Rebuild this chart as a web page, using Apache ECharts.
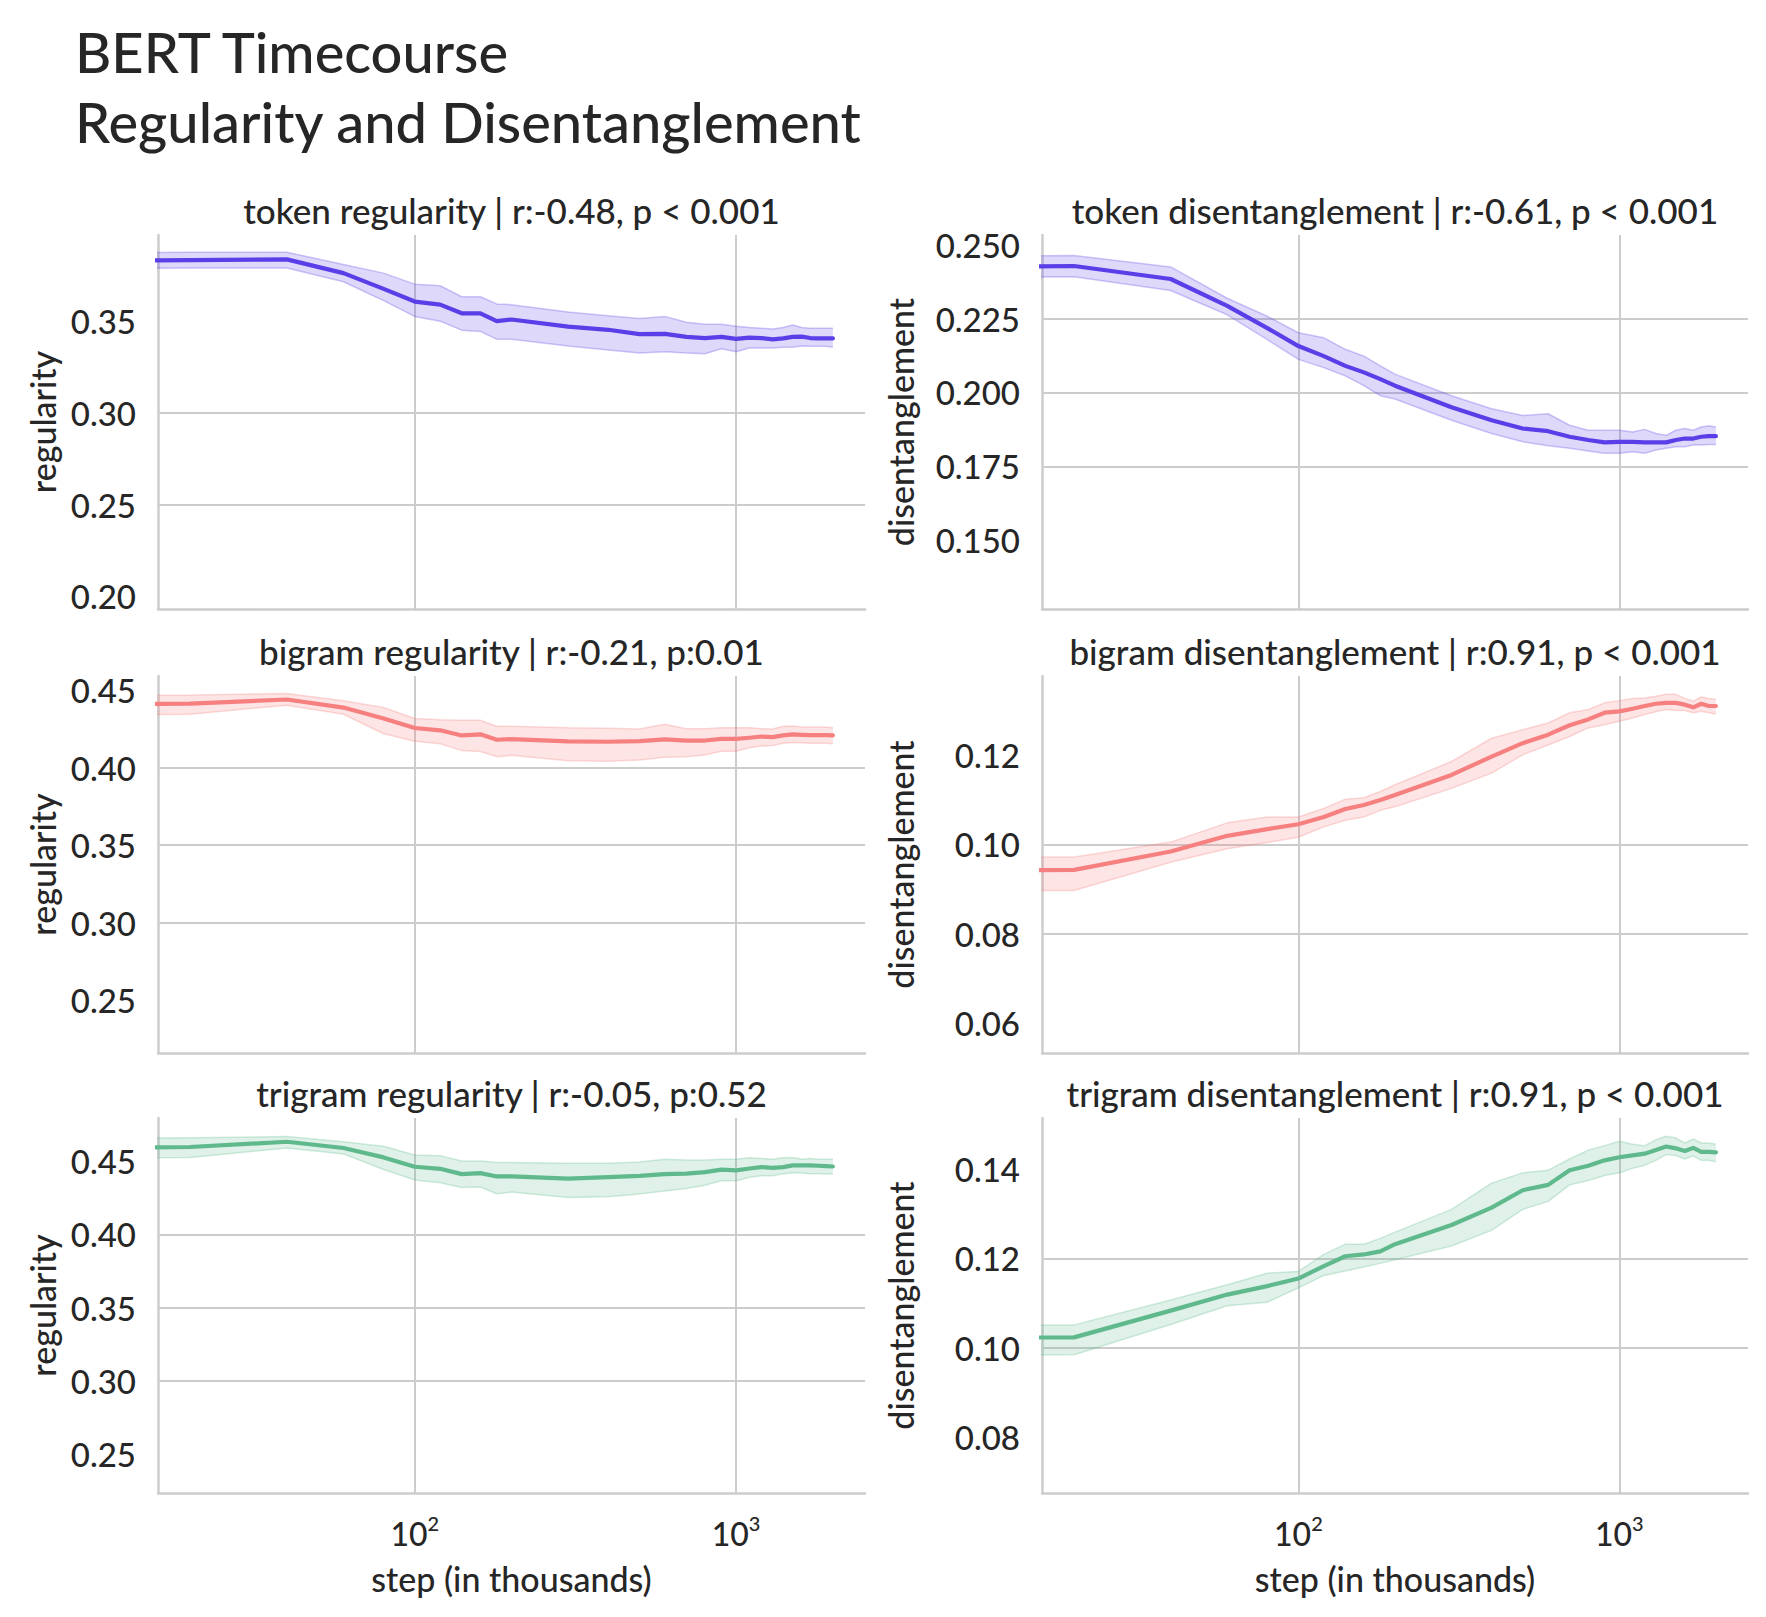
<!DOCTYPE html>
<html><head><meta charset="utf-8">
<script src="https://cdn.jsdelivr.net/npm/echarts@6/dist/echarts.min.js"></script>
<style>html,body{margin:0;padding:0;background:#fff}#chart{width:1766px;height:1617px}</style>
</head><body><div id="chart"></div>
<script>
// ---- data (step in thousands; step 0 is the untrained checkpoint) ----
const steps = [0,20,40,60,80,100,120,140,160,180,200,300,400,500,600,700,800,900,1000,1100,1200,1300,1400,1500,1600,1700,1800,1900,2000];

const tokenRegMean = [0.2055,0.3833,0.3837,0.3762,0.3676,0.3607,0.3590,0.3543,0.3543,0.3500,0.3509,0.3470,0.3453,0.3429,0.3431,0.3414,0.3408,0.3414,0.3403,0.3410,0.3408,0.3401,0.3406,0.3414,0.3416,0.3408,0.3406,0.3406,0.3406];
const tokenRegLo   = [0.2023,0.3790,0.3790,0.3715,0.3612,0.3526,0.3500,0.3451,0.3444,0.3401,0.3401,0.3365,0.3343,0.3326,0.3333,0.3326,0.3322,0.3350,0.3333,0.3354,0.3354,0.3354,0.3358,0.3358,0.3365,0.3363,0.3363,0.3363,0.3358];
const tokenRegHi   = [0.2087,0.3876,0.3876,0.3809,0.3762,0.3702,0.3693,0.3633,0.3633,0.3594,0.3590,0.3550,0.3530,0.3515,0.3526,0.3494,0.3483,0.3483,0.3472,0.3466,0.3461,0.3457,0.3466,0.3479,0.3466,0.3461,0.3461,0.3461,0.3461];

const tokenDisMean = [0.1355,0.2428,0.2384,0.2293,0.2218,0.2157,0.2123,0.2090,0.2068,0.2045,0.2023,0.1950,0.1906,0.1878,0.1869,0.1850,0.1839,0.1831,0.1833,0.1833,0.1831,0.1831,0.1831,0.1839,0.1844,0.1844,0.1850,0.1852,0.1852];
const tokenDisLo   = [0.1325,0.2392,0.2345,0.2263,0.2179,0.2112,0.2084,0.2056,0.2023,0.1989,0.1978,0.1906,0.1861,0.1833,0.1820,0.1811,0.1802,0.1794,0.1794,0.1799,0.1794,0.1805,0.1811,0.1816,0.1816,0.1822,0.1822,0.1824,0.1824];
const tokenDisHi   = [0.1385,0.2464,0.2425,0.2319,0.2258,0.2202,0.2185,0.2146,0.2123,0.2090,0.2062,0.1989,0.1945,0.1922,0.1928,0.1889,0.1872,0.1872,0.1872,0.1866,0.1875,0.1861,0.1855,0.1872,0.1878,0.1872,0.1883,0.1887,0.1883];

const bigramRegMean = [0.2300,0.4415,0.4441,0.4389,0.4318,0.4257,0.4242,0.4209,0.4216,0.4181,0.4185,0.4170,0.4168,0.4172,0.4183,0.4176,0.4176,0.4187,0.4187,0.4194,0.4202,0.4198,0.4209,0.4216,0.4213,0.4211,0.4211,0.4211,0.4209];
const bigramRegLo   = [0.2268,0.4346,0.4404,0.4346,0.4220,0.4172,0.4155,0.4111,0.4105,0.4072,0.4081,0.4046,0.4042,0.4050,0.4068,0.4072,0.4083,0.4107,0.4107,0.4129,0.4140,0.4144,0.4159,0.4163,0.4161,0.4159,0.4159,0.4159,0.4155];
const bigramRegHi   = [0.2332,0.4470,0.4480,0.4433,0.4389,0.4318,0.4311,0.4307,0.4307,0.4268,0.4268,0.4259,0.4255,0.4250,0.4281,0.4252,0.4252,0.4259,0.4259,0.4259,0.4252,0.4250,0.4268,0.4270,0.4263,0.4263,0.4263,0.4263,0.4259];

const bigramDisMean = [0.0595,0.0943,0.0984,0.1019,0.1034,0.1045,0.1061,0.1079,0.1088,0.1099,0.1110,0.1155,0.1196,0.1226,0.1245,0.1266,0.1279,0.1294,0.1297,0.1303,0.1309,0.1314,0.1316,0.1316,0.1312,0.1306,0.1314,0.1309,0.1309];
const bigramDisLo   = [0.0572,0.0897,0.0960,0.0990,0.1004,0.1016,0.1039,0.1054,0.1061,0.1076,0.1084,0.1125,0.1159,0.1200,0.1222,0.1241,0.1260,0.1267,0.1275,0.1282,0.1290,0.1296,0.1301,0.1299,0.1299,0.1294,0.1297,0.1294,0.1291];
const bigramDisHi   = [0.0618,0.0972,0.1005,0.1048,0.1061,0.1061,0.1080,0.1101,0.1104,0.1118,0.1133,0.1185,0.1237,0.1256,0.1271,0.1294,0.1301,0.1316,0.1321,0.1326,0.1327,0.1331,0.1335,0.1335,0.1326,0.1320,0.1329,0.1326,0.1324];

const trigramRegMean = [0.2385,0.4597,0.4633,0.4590,0.4526,0.4462,0.4448,0.4412,0.4419,0.4396,0.4396,0.4381,0.4391,0.4400,0.4412,0.4415,0.4426,0.4443,0.4438,0.4450,0.4460,0.4455,0.4460,0.4472,0.4472,0.4472,0.4469,0.4467,0.4464];
const trigramRegLo   = [0.2351,0.4526,0.4590,0.4550,0.4443,0.4372,0.4353,0.4320,0.4324,0.4277,0.4289,0.4253,0.4258,0.4277,0.4296,0.4313,0.4336,0.4367,0.4367,0.4391,0.4400,0.4400,0.4415,0.4419,0.4419,0.4415,0.4415,0.4412,0.4412];
const trigramRegHi   = [0.2419,0.4661,0.4668,0.4633,0.4602,0.4543,0.4538,0.4502,0.4502,0.4491,0.4491,0.4486,0.4486,0.4495,0.4514,0.4509,0.4509,0.4514,0.4514,0.4524,0.4519,0.4514,0.4524,0.4526,0.4514,0.4519,0.4514,0.4514,0.4514];

const trigramDisMean = [0.0735,0.1023,0.1083,0.1119,0.1138,0.1155,0.1183,0.1205,0.1209,0.1216,0.1232,0.1275,0.1314,0.1353,0.1365,0.1398,0.1408,0.1420,0.1427,0.1431,0.1435,0.1443,0.1451,0.1447,0.1441,0.1448,0.1439,0.1439,0.1438];
const trigramDisLo   = [0.0712,0.0984,0.1052,0.1094,0.1102,0.1134,0.1162,0.1172,0.1181,0.1189,0.1197,0.1228,0.1263,0.1310,0.1328,0.1365,0.1375,0.1386,0.1392,0.1402,0.1409,0.1420,0.1433,0.1431,0.1423,0.1430,0.1420,0.1420,0.1417];
const trigramDisHi   = [0.0758,0.1051,0.1107,0.1141,0.1167,0.1171,0.1209,0.1232,0.1232,0.1245,0.1259,0.1310,0.1369,0.1392,0.1398,0.1423,0.1443,0.1453,0.1463,0.1456,0.1453,0.1466,0.1474,0.1470,0.1459,0.1468,0.1459,0.1459,0.1456];

// axis ranges and tick labels
const tokenRegRange = [0.193, 0.397];    const tokenRegTicks = [0.20,0.25,0.30,0.35];
const tokenDisRange = [0.1267, 0.2533];  const tokenDisTicks = [0.150,0.175,0.200,0.225,0.250];
const bigramRegRange = [0.2157, 0.4593]; const bigramRegTicks = [0.25,0.30,0.35,0.40,0.45];
const bigramDisRange = [0.0534, 0.1376]; const bigramDisTicks = [0.06,0.08,0.10,0.12];
const trigramRegRange = [0.2235, 0.4795]; const trigramRegTicks = [0.25,0.30,0.35,0.40,0.45];
const trigramDisRange = [0.0674, 0.1515]; const trigramDisTicks = [0.08,0.10,0.12,0.14];
const xRange = [Math.pow(10, 1.20103), Math.pow(10, 3.40103)];

const panelTitles = [
  'token regularity | r:-0.48, p < 0.001',
  'token disentanglement | r:-0.61, p < 0.001',
  'bigram regularity | r:-0.21, p:0.01',
  'bigram disentanglement | r:0.91, p < 0.001',
  'trigram regularity | r:-0.05, p:0.52',
  'trigram disentanglement | r:0.91, p < 0.001'
];
const mainTitle = 'BERT Timecourse\nRegularity and Disentanglement';
const xName = 'step (in thousands)';

// ---- styling / layout ----
const FONT = 'Lato, "Open Sans", sans-serif';
const WEIGHT = 500;
const TEXT = '#262626';
const GRID = '#cccccc';
const COLORS = {token: [91,62,232], bigram: [246,127,127], trigram: [95,185,140]};
const rgba = (c, a) => `rgba(${c[0]},${c[1]},${c[2]},${a})`;
const cols = [{left:158, width:707, nameGap:99}, {left:1042, width:706, nameGap:125}];
const rows = [{top:235, height:374}, {top:676, height:377}, {top:1118, height:375}];

const panels = [
  {mean:tokenRegMean, lo:tokenRegLo, hi:tokenRegHi, c:COLORS.token, yName:'regularity', range:tokenRegRange, ticks:tokenRegTicks, dec:2},
  {mean:tokenDisMean, lo:tokenDisLo, hi:tokenDisHi, c:COLORS.token, yName:'disentanglement', range:tokenDisRange, ticks:tokenDisTicks, dec:3},
  {mean:bigramRegMean, lo:bigramRegLo, hi:bigramRegHi, c:COLORS.bigram, yName:'regularity', range:bigramRegRange, ticks:bigramRegTicks, dec:2},
  {mean:bigramDisMean, lo:bigramDisLo, hi:bigramDisHi, c:COLORS.bigram, yName:'disentanglement', range:bigramDisRange, ticks:bigramDisTicks, dec:2},
  {mean:trigramRegMean, lo:trigramRegLo, hi:trigramRegHi, c:COLORS.trigram, yName:'regularity', range:trigramRegRange, ticks:trigramRegTicks, dec:2},
  {mean:trigramDisMean, lo:trigramDisLo, hi:trigramDisHi, c:COLORS.trigram, yName:'disentanglement', range:trigramDisRange, ticks:trigramDisTicks, dec:2}
];

// step 0 cannot sit on a log axis; like matplotlib, push it far off to the left (clipped)
const xOf = s => (s === 0 ? 1e-100 : s);
const isPow10 = v => Math.abs(Math.log10(v) - Math.round(Math.log10(v))) < 1e-6;

const grids = [], xAxes = [], yAxes = [], series = [], graphics = [];
panels.forEach((p, i) => {
  const r = Math.floor(i / 2), col = i % 2;
  const g = {left: cols[col].left, top: rows[r].top, width: cols[col].width, height: rows[r].height, containLabel: false};
  grids.push(g);
  const bottom = r === 2;
  xAxes.push({
    type: 'log', logBase: 10, gridIndex: i, min: xRange[0], max: xRange[1],
    axisLine: {show: true, lineStyle: {color: GRID, width: 2.5}},
    axisTick: {show: false},
    splitLine: {show: true, showMinLine: false, showMaxLine: false, lineStyle: {color: GRID, width: 2}},
    minorTick: {show: false}, minorSplitLine: {show: false},
    axisLabel: {show: bottom, margin: 20, color: TEXT, fontFamily: FONT, fontWeight: WEIGHT,
      formatter: v => isPow10(v) ? '{b|10}{s|' + Math.round(Math.log10(v)) + '}' : '',
      rich: {
        b: {fontSize: 32, lineHeight: 36, fontFamily: FONT, fontWeight: WEIGHT, color: TEXT, verticalAlign: 'bottom'},
        s: {fontSize: 20, lineHeight: 22, fontFamily: FONT, fontWeight: WEIGHT, color: TEXT, verticalAlign: 'top'}
      }},
    name: bottom ? xName : '', nameLocation: 'middle', nameGap: 68,
    nameTextStyle: {color: TEXT, fontFamily: FONT, fontSize: 34, fontWeight: WEIGHT}
  });
  yAxes.push({
    type: 'value', gridIndex: i, min: p.range[0], max: p.range[1],
    axisLine: {show: true, lineStyle: {color: GRID, width: 2.5}},
    axisTick: {show: false, customValues: p.ticks},
    splitLine: {show: true, showMinLine: false, showMaxLine: false, lineStyle: {color: GRID, width: 2}},
    axisLabel: {customValues: p.ticks, margin: 22, color: TEXT, fontFamily: FONT, fontSize: 33, fontWeight: WEIGHT,
      formatter: v => v.toFixed(p.dec)},
    name: p.yName, nameLocation: 'middle', nameGap: cols[col].nameGap, nameRotate: 90,
    nameTextStyle: {color: TEXT, fontFamily: FONT, fontSize: 34, fontWeight: WEIGHT}
  });
  const edge = {color: rgba(p.c, 0.28), width: 1.5};
  // y value first so the stack applies to the value (y) dimension
  const dims = [{name: 'val', type: 'float'}, {name: 'step', type: 'float'}];
  const enc = {x: 'step', y: 'val'};
  series.push({
    type: 'line', xAxisIndex: i, yAxisIndex: i, stack: 'ci' + i, symbol: 'none', silent: true, clip: true,
    dimensions: dims, encode: enc,
    lineStyle: edge, data: steps.map((s, k) => [p.lo[k], xOf(s)]), z: 2
  });
  series.push({
    type: 'line', xAxisIndex: i, yAxisIndex: i, stack: 'ci' + i, symbol: 'none', silent: true, clip: true,
    dimensions: dims, encode: enc,
    lineStyle: edge, areaStyle: {color: rgba(p.c, 0.2), opacity: 1},
    data: steps.map((s, k) => [+(p.hi[k] - p.lo[k]).toFixed(5), xOf(s)]), z: 2
  });
  series.push({
    type: 'line', xAxisIndex: i, yAxisIndex: i, symbol: 'none', silent: true, clip: true,
    lineStyle: {color: rgba(p.c, 1), width: 4.2, join: 'round', cap: 'round'},
    data: steps.map((s, k) => [xOf(s), p.mean[k]]), z: 3
  });
  graphics.push({
    type: 'text', x: g.left + g.width / 2, y: g.top - 25, silent: true,
    style: {text: panelTitles[i], fill: TEXT, fontFamily: FONT, fontSize: 35, fontWeight: WEIGHT, align: 'center', verticalAlign: 'middle'}
  });
});

const chart = echarts.init(document.getElementById('chart'), null, {renderer: 'svg', width: 1766, height: 1617});
chart.setOption({
  backgroundColor: '#ffffff',
  animation: false,
  title: {text: mainTitle, left: 70, top: 11,
    textStyle: {color: TEXT, fontFamily: FONT, fontSize: 56, lineHeight: 70, fontWeight: WEIGHT}},
  grid: grids, xAxis: xAxes, yAxis: yAxes, series: series, graphic: graphics
});
</script></body></html>
